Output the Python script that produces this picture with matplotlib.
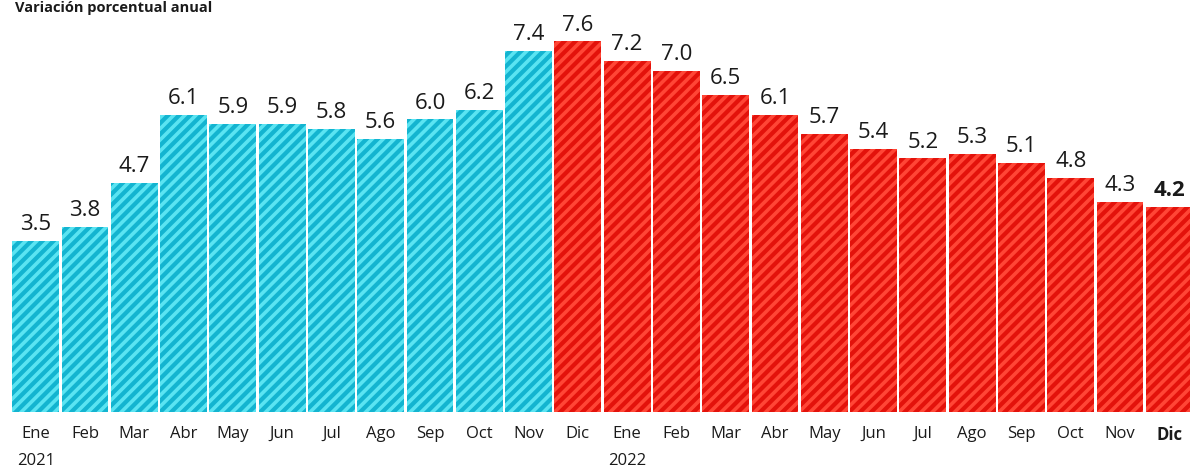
import matplotlib
matplotlib.use("Agg")
import matplotlib.pyplot as plt

months = ["Ene", "Feb", "Mar", "Abr", "May", "Jun", "Jul", "Ago", "Sep", "Oct", "Nov", "Dic",
          "Ene", "Feb", "Mar", "Abr", "May", "Jun", "Jul", "Ago", "Sep", "Oct", "Nov", "Dic"]
values = [3.5, 3.8, 4.7, 6.1, 5.9, 5.9, 5.8, 5.6, 6.0, 6.2, 7.4, 7.6,
          7.2, 7.0, 6.5, 6.1, 5.7, 5.4, 5.2, 5.3, 5.1, 4.8, 4.3, 4.2]
years = ["2021", "2022"]
year_pos = [0, 12]
n_cyan = 11
title = "Variación porcentual anual"

plt.rcParams['font.family'] = ['Open Sans', 'DejaVu Sans']
plt.rcParams['hatch.linewidth'] = 2.6

W, H = 1190, 470
fig = plt.figure(figsize=(W / 100, H / 100), dpi=100)
fig.patch.set_facecolor('white')
ax = fig.add_axes([11 / W, 58 / H, (1194 - 11) / W, 412 / H])
ax.set_facecolor('white')

x = list(range(len(values)))
for i, v in enumerate(values):
    if i < n_cyan:
        fc, hc = '#13b4d0', '#5ae4f2'
    else:
        fc, hc = '#e3120b', '#ff4636'
    ax.bar(i, v, width=0.95, color=fc, edgecolor=hc, hatch='///', linewidth=0)
    last = (i == len(values) - 1)
    ax.text(i, v + 0.12, f"{v:.1f}", ha='center', va='bottom', fontsize=16,
            color='#1a1a1a', fontweight='bold' if last else 'normal')

ax.set_xlim(-0.5, 23.5)
ax.set_ylim(0, 8.45)
ax.set_xticks(x)
ax.set_xticklabels(months, fontsize=12, color='#1a1a1a')
ax.get_xticklabels()[-1].set_fontweight('bold')
ax.tick_params(axis='x', length=0, pad=10)
ax.set_yticks([])
for s in ax.spines.values():
    s.set_visible(False)

for y, p in zip(years, year_pos):
    ax.text(p, -41 / 412, y, transform=ax.get_xaxis_transform(), ha='center', va='top',
            fontsize=12, color='#1a1a1a')

fig.text(15 / W, 1 - 12 / H, title, ha='left', va='baseline', fontsize=10.5,
         fontweight='bold', color='#1a1a1a')

fig.savefig("out.png", dpi=100, facecolor='white')
